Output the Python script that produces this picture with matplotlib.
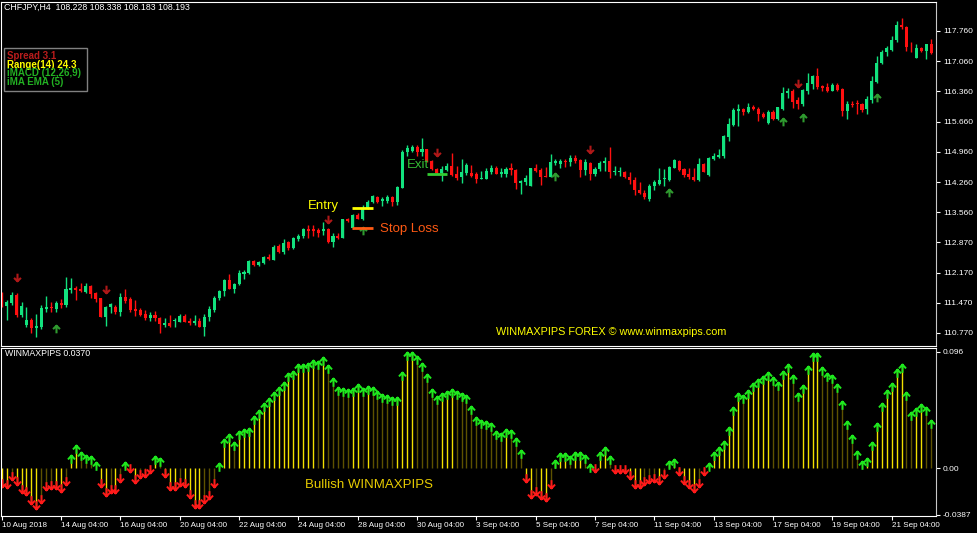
"""CHFJPY H4 chart with WINMAXPIPS histogram, MT4 style."""

import matplotlib

matplotlib.use("Agg")
import matplotlib.pyplot as plt
from matplotlib.path import Path
from matplotlib.patches import Rectangle

W, H = 977, 533

# --- price candles (one per H4 bar) ---
opens = [
    111.61, 111.39, 111.46, 111.65, 111.19, 110.95, 111.07, 110.89, 110.90, 111.32,
    111.38, 111.32, 111.46, 111.42, 111.76, 111.82, 111.78, 111.71, 111.86, 111.70,
    111.57, 111.15, 111.38, 111.38, 111.26, 111.61, 111.56, 111.32, 111.30, 111.22,
    111.11, 111.18, 111.12, 110.96, 111.01, 111.04, 111.03, 111.17, 111.05, 111.01,
    111.05, 110.91, 111.13, 111.30, 111.59, 111.75, 111.99, 111.78, 111.90, 112.13,
    112.15, 112.44, 112.34, 112.38, 112.54, 112.47, 112.78, 112.64, 112.87, 112.74,
    112.94, 113.01, 113.18, 113.17, 113.15, 113.13, 113.18, 112.88, 113.02, 112.98,
    113.40, 113.19, 113.50, 113.42, 113.67, 113.80, 113.92, 113.83, 113.82, 113.91,
    113.81, 114.13, 114.95, 114.99, 115.07, 114.97, 115.03, 114.75, 114.56, 114.47,
    114.54, 114.63, 114.45, 114.37, 114.47, 114.48, 114.44, 114.33, 114.33, 114.49,
    114.58, 114.46, 114.46, 114.58, 114.54, 114.25, 114.26, 114.18, 114.60, 114.54,
    114.41, 114.39, 114.70, 114.68, 114.76, 114.73, 114.83, 114.77, 114.54, 114.70,
    114.45, 114.56, 114.70, 114.74, 114.50, 114.49, 114.50, 114.39, 114.31, 114.09,
    114.02, 113.88, 114.17, 114.23, 114.33, 114.31, 114.60, 114.75, 114.56, 114.44,
    114.39, 114.31, 114.68, 114.42, 114.80, 114.85, 114.87, 115.31, 115.58, 115.91,
    115.96, 115.88, 116.00, 115.96, 115.85, 115.63, 115.89, 115.73, 115.95, 116.33,
    116.36, 116.16, 116.06, 116.37, 116.53, 116.72, 116.49, 116.46, 116.37, 116.51,
    116.41, 115.91, 116.07, 116.10, 116.07, 115.95, 116.16, 116.59, 117.01, 117.27,
    117.32, 117.54, 117.91, 117.86, 117.40, 117.14, 117.37, 117.30, 117.46,
]
highs = [
    111.73, 111.53, 111.71, 111.69, 111.49, 111.38, 111.11, 111.22, 111.42, 111.63,
    111.49, 111.51, 111.55, 112.06, 112.04, 111.86, 111.93, 111.92, 111.88, 111.71,
    111.58, 111.39, 111.47, 111.42, 111.69, 111.78, 111.61, 111.53, 111.34, 111.30,
    111.25, 111.28, 111.15, 111.11, 111.18, 111.11, 111.20, 111.20, 111.11, 111.18,
    111.11, 111.22, 111.39, 111.63, 111.76, 112.01, 112.13, 111.93, 112.23, 112.23,
    112.46, 112.47, 112.44, 112.55, 112.60, 112.81, 112.83, 112.94, 112.91, 113.00,
    113.05, 113.21, 113.27, 113.27, 113.19, 113.35, 113.21, 113.08, 113.09, 113.41,
    113.44, 113.52, 113.54, 113.73, 113.85, 113.96, 113.94, 113.91, 113.96, 113.94,
    114.18, 115.01, 115.11, 115.11, 115.11, 115.28, 115.04, 114.77, 114.58, 114.63,
    114.70, 114.93, 114.63, 114.79, 114.70, 114.66, 114.50, 114.52, 114.58, 114.66,
    114.64, 114.60, 114.62, 114.71, 114.56, 114.31, 114.43, 114.60, 114.68, 114.60,
    114.62, 114.91, 114.79, 114.80, 114.79, 114.89, 114.90, 114.79, 114.80, 114.73,
    114.62, 114.76, 114.84, 115.08, 114.63, 114.62, 114.53, 114.49, 114.37, 114.26,
    114.08, 114.22, 114.31, 114.58, 114.56, 114.63, 114.79, 114.77, 114.60, 114.58,
    114.60, 114.81, 114.70, 114.85, 114.94, 115.02, 115.35, 115.74, 115.98, 116.07,
    115.98, 116.09, 116.05, 116.01, 115.89, 115.93, 115.93, 116.01, 116.47, 116.43,
    116.41, 116.24, 116.42, 116.78, 116.74, 116.90, 116.51, 116.55, 116.55, 116.55,
    116.43, 116.14, 116.15, 116.16, 116.10, 116.25, 116.72, 117.18, 117.31, 117.41,
    117.64, 117.98, 118.05, 117.88, 117.51, 117.45, 117.40, 117.47, 117.57,
]
lows = [
    111.38, 111.07, 111.42, 111.15, 111.15, 110.91, 110.78, 110.68, 110.86, 111.26,
    111.26, 111.25, 111.36, 111.38, 111.69, 111.53, 111.71, 111.69, 111.57, 111.49,
    111.13, 110.94, 111.24, 111.22, 111.17, 111.46, 111.26, 111.17, 111.16, 111.07,
    111.05, 111.05, 110.78, 110.91, 110.90, 110.91, 111.02, 111.02, 110.95, 110.95,
    110.90, 110.70, 111.05, 111.26, 111.53, 111.63, 111.78, 111.70, 111.88, 112.03,
    112.13, 112.33, 112.32, 112.36, 112.46, 112.46, 112.61, 112.60, 112.69, 112.71,
    112.91, 112.98, 112.98, 113.01, 113.00, 113.04, 112.86, 112.77, 112.94, 112.97,
    113.35, 113.18, 113.40, 113.38, 113.63, 113.77, 113.79, 113.71, 113.79, 113.72,
    113.73, 114.12, 114.87, 114.97, 114.87, 114.87, 114.72, 114.54, 114.44, 114.29,
    114.52, 114.41, 114.31, 114.25, 114.43, 114.39, 114.25, 114.33, 114.33, 114.46,
    114.45, 114.39, 114.39, 114.43, 114.10, 113.99, 114.20, 114.17, 114.50, 114.20,
    114.37, 114.37, 114.66, 114.60, 114.62, 114.63, 114.70, 114.39, 114.43, 114.31,
    114.41, 114.53, 114.52, 114.35, 114.43, 114.41, 114.35, 114.23, 113.96, 113.99,
    113.88, 113.83, 114.09, 114.20, 114.17, 114.29, 114.58, 114.52, 114.39, 114.33,
    114.29, 114.29, 114.49, 114.41, 114.77, 114.83, 114.83, 115.21, 115.57, 115.55,
    115.81, 115.87, 115.93, 115.68, 115.74, 115.61, 115.70, 115.70, 115.93, 116.20,
    115.98, 115.95, 116.02, 116.30, 116.41, 116.41, 116.36, 116.35, 116.36, 116.38,
    115.79, 115.72, 115.99, 115.84, 115.89, 115.84, 116.10, 116.56, 116.99, 117.19,
    117.30, 117.51, 117.80, 117.30, 117.28, 117.13, 117.28, 117.11, 117.23,
]
closes = [
    111.42, 111.49, 111.65, 111.18, 111.39, 111.07, 110.88, 110.93, 111.34, 111.38,
    111.36, 111.46, 111.42, 111.78, 111.82, 111.76, 111.74, 111.86, 111.67, 111.56,
    111.15, 111.38, 111.44, 111.26, 111.61, 111.52, 111.30, 111.28, 111.18, 111.11,
    111.18, 111.11, 110.98, 111.01, 110.93, 111.06, 111.17, 111.03, 111.01, 111.05,
    110.91, 111.15, 111.32, 111.59, 111.75, 111.99, 111.79, 111.90, 112.15, 112.18,
    112.44, 112.34, 112.42, 112.52, 112.48, 112.77, 112.65, 112.86, 112.73, 112.96,
    113.02, 113.17, 113.12, 113.14, 113.08, 113.18, 112.88, 113.02, 112.98, 113.40,
    113.37, 113.50, 113.42, 113.67, 113.81, 113.94, 113.81, 113.86, 113.91, 113.81,
    114.16, 114.97, 115.06, 115.08, 114.97, 115.03, 114.74, 114.56, 114.47, 114.56,
    114.64, 114.43, 114.35, 114.50, 114.66, 114.41, 114.33, 114.36, 114.52, 114.58,
    114.46, 114.49, 114.56, 114.54, 114.25, 114.29, 114.36, 114.60, 114.52, 114.39,
    114.39, 114.72, 114.74, 114.76, 114.73, 114.83, 114.76, 114.54, 114.73, 114.45,
    114.57, 114.71, 114.74, 114.50, 114.52, 114.52, 114.37, 114.31, 114.09, 114.00,
    113.92, 114.17, 114.27, 114.31, 114.35, 114.62, 114.77, 114.54, 114.43, 114.39,
    114.31, 114.68, 114.50, 114.83, 114.87, 114.90, 115.33, 115.61, 115.93, 115.95,
    115.89, 116.00, 115.95, 115.84, 115.76, 115.88, 115.72, 115.99, 116.33, 116.37,
    116.12, 116.06, 116.39, 116.56, 116.72, 116.46, 116.45, 116.36, 116.51, 116.39,
    115.91, 116.08, 116.04, 116.06, 115.93, 116.19, 116.61, 117.03, 117.27, 117.37,
    117.55, 117.90, 117.86, 117.38, 117.38, 117.37, 117.30, 117.46, 117.26,
]

# signal arrows drawn on the price panel (bar index, price level)
sell_bars = [3, 21, 66, 88, 119, 161]
sell_levels = [112.07, 111.79, 113.41, 114.96, 115.03, 116.56]
buy_bars = [11, 73, 112, 135, 158, 162, 177]
buy_levels = [110.86, 113.13, 114.38, 114.01, 115.65, 115.75, 116.21]

# --- WINMAXPIPS histogram ---
winmax = [
    -0.0155, -0.0168, -0.0099, -0.0141, -0.0210, -0.0223, -0.0298, -0.0342, -0.0287, -0.0182,
    -0.0177, -0.0177, -0.0196, -0.0141, 0.0108, 0.0190, 0.0130, 0.0108, 0.0099, 0.0052,
    -0.0155, -0.0232, -0.0204, -0.0210, -0.0113, 0.0052, -0.0030, -0.0127, -0.0086, -0.0072,
    -0.0044, 0.0099, 0.0086, -0.0077, -0.0182, -0.0182, -0.0149, -0.0160, -0.0251, -0.0334,
    -0.0334, -0.0292, -0.0259, -0.0155, 0.0039, 0.0237, 0.0281, 0.0218, 0.0309, 0.0320,
    0.0328, 0.0430, 0.0480, 0.0535, 0.0577, 0.0632, 0.0668, 0.0714, 0.0783, 0.0806,
    0.0858, 0.0858, 0.0872, 0.0894, 0.0888, 0.0921, 0.0852, 0.0742, 0.0668, 0.0659,
    0.0654, 0.0665, 0.0692, 0.0659, 0.0679, 0.0668, 0.0637, 0.0612, 0.0604, 0.0585,
    0.0590, 0.0792, 0.0963, 0.0963, 0.0930, 0.0866, 0.0775, 0.0654, 0.0599, 0.0618,
    0.0637, 0.0654, 0.0637, 0.0618, 0.0604, 0.0513, 0.0425, 0.0397, 0.0389, 0.0370,
    0.0306, 0.0287, 0.0320, 0.0314, 0.0251, 0.0149, -0.0119, -0.0251, -0.0223, -0.0257,
    -0.0273, -0.0163, 0.0066, 0.0121, 0.0121, 0.0099, 0.0135, 0.0135, 0.0108, 0.0033,
    -0.0036, 0.0135, 0.0177, 0.0099, -0.0044, -0.0039, -0.0039, -0.0091, -0.0163, -0.0163,
    -0.0138, -0.0127, -0.0119, -0.0135, -0.0086, 0.0058, 0.0074, -0.0058, -0.0135, -0.0163,
    -0.0201, -0.0154, -0.0058, 0.0039, 0.0130, 0.0177, 0.0223, 0.0342, 0.0508, 0.0623,
    0.0604, 0.0646, 0.0701, 0.0737, 0.0764, 0.0792, 0.0750, 0.0714, 0.0803, 0.0861,
    0.0770, 0.0618, 0.0687, 0.0847, 0.0949, 0.0954, 0.0839, 0.0789, 0.0770, 0.0692,
    0.0554, 0.0389, 0.0273, 0.0143, 0.0061, 0.0080, 0.0218, 0.0375, 0.0535, 0.0646,
    0.0701, 0.0817, 0.0858, 0.0632, 0.0466, 0.0494, 0.0527, 0.0502, 0.0397,
]

price_ticks = [117.76, 117.06, 116.36, 115.66, 114.96, 114.26, 113.56, 112.87, 112.17, 111.47, 110.77]
price_tick_labels = ["117.760", "117.060", "116.360", "115.660", "114.960", "114.260",
                     "113.560", "112.870", "112.170", "111.470", "110.770"]
ind_ticks = [0.096, 0.0, -0.0387]
ind_tick_labels = ["0.096", "0.00", "-0.0387"]
date_labels = ["10 Aug 2018", "14 Aug 04:00", "16 Aug 04:00", "20 Aug 04:00", "22 Aug 04:00",
               "24 Aug 04:00", "28 Aug 04:00", "30 Aug 04:00", "3 Sep 04:00", "5 Sep 04:00",
               "7 Sep 04:00", "11 Sep 04:00", "13 Sep 04:00", "17 Sep 04:00", "19 Sep 04:00",
               "21 Sep 04:00"]
BARS_PER_LABEL = 12

BULL = "#12e27e"
BEAR = "#ff1010"
FONT = "Liberation Sans"

# arrow markers: tip at the marker origin (indicator) or centred (price panel)
TIP_UP = Path([(0, 0), (0, -2), (-0.85, -0.95), (0, 0), (0.85, -0.95)],
              [Path.MOVETO, Path.LINETO, Path.MOVETO, Path.LINETO, Path.LINETO])
TIP_DOWN = Path([(0, 0), (0, 2), (-0.85, 0.95), (0, 0), (0.85, 0.95)],
                [Path.MOVETO, Path.LINETO, Path.MOVETO, Path.LINETO, Path.LINETO])
MID_UP = Path([(0, -1), (0, 1), (-0.9, 0.1), (0, 1), (0.9, 0.1)],
              [Path.MOVETO, Path.LINETO, Path.MOVETO, Path.LINETO, Path.LINETO])
MID_DOWN = Path([(0, 1), (0, -1), (-0.9, -0.1), (0, -1), (0.9, -0.1)],
                [Path.MOVETO, Path.LINETO, Path.MOVETO, Path.LINETO, Path.LINETO])


def fx(x):
    return x / W


def fy(y):
    return 1 - y / H


def style_axes(ax):
    ax.set_facecolor("black")
    for side in ("left", "top", "bottom"):
        ax.spines[side].set_color("white")
    ax.spines["right"].set_color("#c8c8c8")
    ax.yaxis.tick_right()
    ax.tick_params(axis="y", colors="white", labelsize=6, length=3, width=0.8, pad=2,
                   labelfontfamily=FONT)


def draw_candles(ax):
    idx = range(len(closes))
    colors = [BULL if c >= o else BEAR for o, c in zip(opens, closes)]
    ax.vlines(idx, lows, highs, colors=colors, linewidth=1)
    bottoms = [min(o, c) for o, c in zip(opens, closes)]
    heights = [max(abs(c - o), 0.02) for o, c in zip(opens, closes)]
    ax.bar(idx, heights, bottom=bottoms, width=0.62, color=colors, linewidth=0)

    ax.plot(sell_bars, sell_levels, linestyle="none", marker=MID_DOWN, ms=5.5,
            mec="#b01818", mfc="none", mew=1.5)
    ax.plot(buy_bars, buy_levels, linestyle="none", marker=MID_UP, ms=5.5,
            mec="#2f9a2f", mfc="none", mew=1.5)


def draw_indicator(ax):
    colors = []
    for i, v in enumerate(winmax):
        prev = winmax[i - 1] if i else v
        growing = (v >= prev) if v >= 0 else (v <= prev)
        colors.append("#f2e000" if growing else "#5e5200")
    idx = list(range(len(winmax)))
    ax.vlines(idx, 0, winmax, colors=colors, linewidth=1)

    up_x = [i for i in idx if winmax[i] > 0]
    dn_x = [i for i in idx if winmax[i] <= 0]
    ax.plot(up_x, [winmax[i] for i in up_x], linestyle="none", marker=TIP_UP, ms=12,
            mec="#1ee81e", mfc="none", mew=1.4)
    ax.plot(dn_x, [winmax[i] for i in dn_x], linestyle="none", marker=TIP_DOWN, ms=12,
            mec="#ff1a1a", mfc="none", mew=1.4)


def main():
    fig = plt.figure(figsize=(W / 100, H / 100), dpi=100, facecolor="black")
    xlim = (-0.15, 188.97)

    ax = fig.add_axes([fx(1), fy(346), fx(935), 344 / H])
    style_axes(ax)
    draw_candles(ax)
    ax.set_xlim(*xlim)
    ax.set_ylim(110.469, 118.431)
    ax.set_xticks([])
    ax.set_yticks(price_ticks)
    ax.set_yticklabels(price_tick_labels)

    # trade markings
    ax.hlines(113.67, 70.9, 75.1, color="#ffff00", linewidth=2)
    ax.hlines(113.21, 70.9, 75.1, color="#ff5a14", linewidth=2)
    ax.hlines(114.46, 86.0, 90.0, color="#33cc33", linewidth=2)
    ax.text(61.9, 113.71, "Entry", color="#ffff00", fontsize=9.5, family=FONT, va="center")
    ax.text(76.6, 113.18, "Stop Loss", color="#ff5a14", fontsize=9.5, family=FONT, va="center")
    ax.text(82.0, 114.66, "Exit", color="#33bb33", fontsize=9.5, family=FONT, va="center")
    ax.text(100.0, 110.79, "WINMAXPIPS FOREX © www.winmaxpips.com", color="#ffff00",
            fontsize=7.8, family=FONT, va="center")

    ax2 = fig.add_axes([fx(1), fy(516), fx(935), 168 / H])
    style_axes(ax2)
    draw_indicator(ax2)
    ax2.set_xlim(*xlim)
    ax2.set_ylim(-0.0397, 0.0993)
    ax2.set_yticks(ind_ticks)
    ax2.set_yticklabels(ind_tick_labels)
    ax2.set_xticks([i * BARS_PER_LABEL for i in range(len(date_labels))])
    ax2.set_xticklabels(date_labels, ha="left")
    ax2.tick_params(axis="x", colors="white", labelsize=5.8, length=3, width=0.8, pad=1.5,
                    labelfontfamily=FONT)
    ax2.text(61.35, -0.0141, "Bullish WINMAXPIPS", color="#e8cc00", fontsize=9.5,
             family=FONT, va="center")

    # header and info box
    fig.text(fx(4), fy(7), "CHFJPY,H4  108.228 108.338 108.183 108.193", color="white",
             fontsize=6.3, family=FONT, va="center")
    fig.text(fx(5), fy(353), "WINMAXPIPS 0.0370", color="white", fontsize=6.3,
             family=FONT, va="center")
    fig.add_artist(Rectangle((fx(4), fy(91)), fx(83), 43 / H, transform=fig.transFigure,
                             facecolor="none", edgecolor="#808080", linewidth=1))
    info = [("Spread 3.1", "#b81c1c"), ("Range(14) 24.3", "#ffff00"),
            ("iMACD (12,26,9)", "#22b022"), ("iMA EMA (5)", "#22b022")]
    for n, (label, color) in enumerate(info):
        fig.text(fx(7), fy(56 + n * 8.7), label, color=color, fontsize=7, family=FONT,
                 fontweight="bold", va="center")

    fig.savefig("out.png", dpi=100, facecolor="black")
    plt.close(fig)


if __name__ == "__main__":
    main()
